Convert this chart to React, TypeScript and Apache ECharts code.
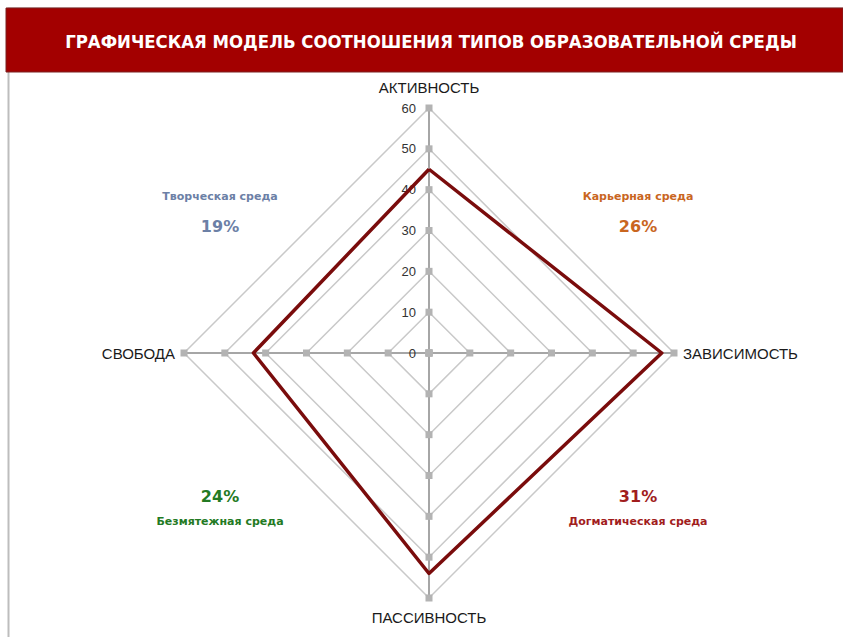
import React, { useEffect, useRef } from "react";
import * as echarts from "echarts";

const title = "ГРАФИЧЕСКАЯ МОДЕЛЬ СООТНОШЕНИЯ ТИПОВ ОБРАЗОВАТЕЛЬНОЙ СРЕДЫ";
// indicator order: ECharts places them counter-clockwise from the top
const indicators = ["АКТИВНОСТЬ", "СВОБОДА", "ПАССИВНОСТЬ", "ЗАВИСИМОСТЬ"];
const values = [45, 43, 54, 57];
const ticks = [0, 10, 20, 30, 40, 50, 60];
const axisMax = 60;

const quadrantNames = ["Творческая среда", "Карьерная среда", "Безмятежная среда", "Догматическая среда"];
const quadrantShares = ["19%", "26%", "24%", "31%"];
const quadrantColors = ["#6c80a6", "#c9661f", "#237a23", "#a11d1d"];

export default function App() {
  const ref = useRef<HTMLDivElement>(null);
  useEffect(() => {
    document.body.style.margin = "0";
    const chart = echarts.init(ref.current!, null, { renderer: "svg" });
    const cx = 429;
    const cy = 353;
    const R = 245;

    const quadPos = [
      { x: 220, top: true },
      { x: 638, top: true },
      { x: 220, top: false },
      { x: 638, top: false },
    ];
    const quadGraphics: any[] = [];
    quadrantNames.forEach((n, i) => {
      const p = quadPos[i];
      const nameY = p.top ? 196 : 521;
      const shareY = p.top ? 226 : 496;
      quadGraphics.push({
        type: "text",
        x: p.x,
        y: nameY,
        style: {
          text: n,
          fill: quadrantColors[i],
          font: "bold 11px 'DejaVu Sans', Verdana, sans-serif",
          align: "center",
          verticalAlign: "middle",
        },
      });
      quadGraphics.push({
        type: "text",
        x: p.x,
        y: shareY,
        style: {
          text: quadrantShares[i],
          fill: quadrantColors[i],
          font: "bold 16px 'DejaVu Sans', Verdana, sans-serif",
          align: "center",
          verticalAlign: "middle",
        },
      });
    });

    const tickSeriesData = ticks.map((t) => ({
      value: indicators.map(() => t),
    }));

    chart.setOption({
      animation: false,
      graphic: [
        {
          type: "rect",
          shape: { x: 8.5, y: 8.5, width: 850, height: 640 },
          style: { fill: "none", stroke: "#bdbdbd", lineWidth: 2 },
          z: 0,
        },
        {
          type: "rect",
          shape: { x: 6, y: 8, width: 837, height: 64 },
          style: { fill: "#a30000", stroke: "#7a2020", lineWidth: 1 },
          z: 1,
        },
        {
          type: "text",
          x: 431,
          y: 41,
          z: 2,
          style: {
            text: title,
            fill: "#ffffff",
            font: "bold 18.4px 'Liberation Sans Narrow', 'DejaVu Sans Condensed', 'Arial Narrow', sans-serif",
            align: "center",
            verticalAlign: "middle",
          },
        },
        ...quadGraphics,
      ],
      radar: {
        center: [cx, cy],
        radius: R,
        startAngle: 90,
        shape: "polygon",
        splitNumber: ticks.length - 1,
        nameGap: 9,
        axisName: {
          color: "#1a1a1a",
          fontSize: 15,
          fontFamily: "'Liberation Sans', Arial, sans-serif",
          padding: [3, 0, 4, 0],
        },
        indicator: indicators.map((name, i) => ({
          name,
          min: 0,
          max: axisMax,
          ...(i === 0
            ? {
                axisLabel: {
                  show: true,
                  color: "#333",
                  fontSize: 13,
                  fontFamily: "'Liberation Sans', Arial, sans-serif",
                  margin: 13,
                  showMaxLabel: true,
                  showMinLabel: true,
                },
              }
            : {}),
        })),
        axisLabel: { show: false },
        axisTick: { show: false },
        axisLine: { show: true, lineStyle: { color: "#a6a6a6", width: 2 } },
        splitLine: { show: true, lineStyle: { color: "#c9c9c9", width: 1.5 } },
        splitArea: { show: false },
      },
      series: [
        {
          type: "radar",
          silent: true,
          z: 3,
          symbol: "rect",
          symbolSize: 7,
          itemStyle: { color: "#b3b3b3" },
          lineStyle: { opacity: 0, width: 0 },
          data: tickSeriesData,
        },
        {
          type: "radar",
          z: 4,
          symbol: "none",
          lineStyle: { color: "#7a0c0c", width: 3.5 },
          data: [{ value: values, name: "model" }],
        },
      ],
    });
    return () => chart.dispose();
  }, []);
  return <div ref={ref} style={{ width: 843, height: 637 }} />;
}
